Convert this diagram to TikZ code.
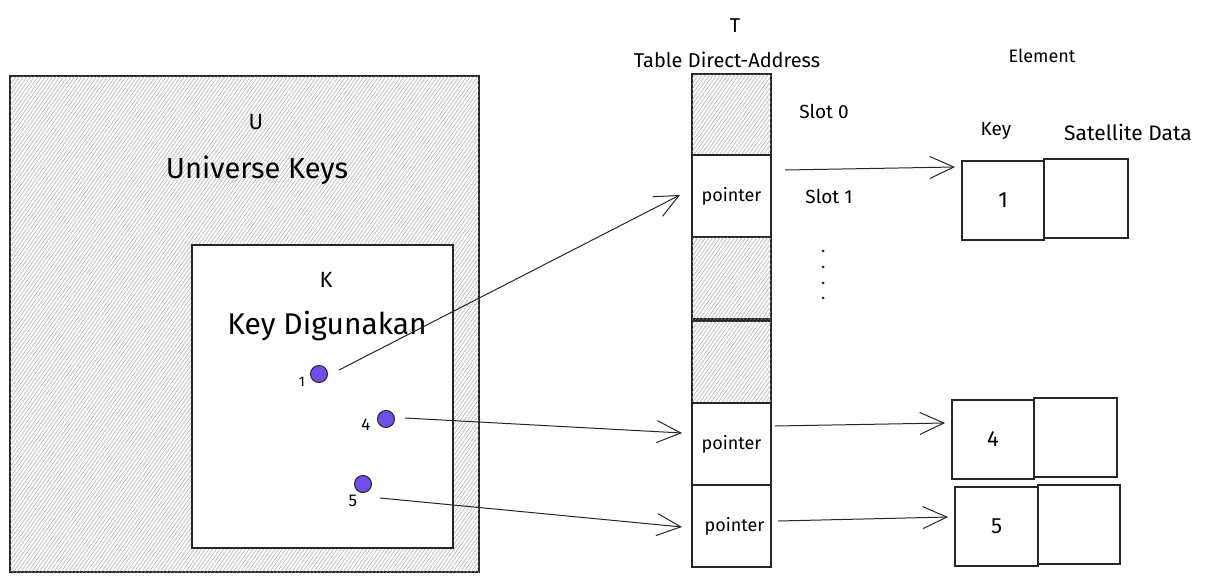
\documentclass[tikz,border=0pt]{standalone}
\usepackage{fontspec}
\setmainfont{Fira Sans}
\usetikzlibrary{arrows.meta,patterns.meta,calc}
\definecolor{dotpurple}{RGB}{112,78,232}
\definecolor{hatchgray}{RGB}{160,160,160}
\tikzset{
  box/.style={draw=black!85, line width=1.1pt, rectangle, inner sep=0pt, outer sep=0pt, anchor=north west},
  hatched/.style={box, fill=gray!5, postaction={pattern={Lines[angle=55,distance=3pt,line width=0.35pt]}, pattern color=hatchgray}},
  plain/.style={box, fill=white},
  slot/.style={minimum width=79pt, minimum height=82pt},
  cell/.style={plain, minimum width=82pt, minimum height=79pt},
  lbl/.style={inner sep=0pt, outer sep=0pt},
  dot/.style={circle, draw=black!85, line width=1pt, fill=dotpurple, minimum size=17pt, inner sep=0pt},
  link/.style={draw=black!85, line width=1pt, -{Straight Barb[length=24pt,width=22pt,line width=1pt]}},
}
\begin{document}
\begin{tikzpicture}[x=1pt,y=-1pt]
\useasboundingbox (0,0) rectangle (1214,586);
% Universe
\node[hatched, minimum width=469pt, minimum height=496pt] (U) at (10,76) {};
\node[plain, minimum width=261pt, minimum height=303pt] (K) at (192,245) {};
\node[lbl, font=\fontsize{22}{26}\selectfont] (Ulbl) at (256,122) {U};
\node[lbl, font=\fontsize{29}{33}\selectfont] (Utxt) at (257,170) {Universe Keys};
\node[lbl, font=\fontsize{22}{26}\selectfont] (Klbl) at (326,280) {K};
\node[lbl, font=\fontsize{30}{34}\selectfont] (Ktxt) at (327,326) {Key Digunakan};
% keys
\node[dot] (d1) at (319,374) {};
\node[dot] (d4) at (386,419) {};
\node[dot] (d5) at (363,484) {};
\node[lbl, font=\fontsize{14}{16}\selectfont] (n1) at (302,382) {1};
\node[lbl, font=\fontsize{17}{19}\selectfont] (n4) at (366,425) {4};
\node[lbl, font=\fontsize{17}{19}\selectfont] (n5) at (353,501) {5};
% table
\node[lbl, font=\fontsize{20}{24}\selectfont] (Tlbl) at (735,26) {T};
\node[lbl, font=\fontsize{20}{24}\selectfont] (Ttxt) at (727,60) {Table Direct-Address};
\node[hatched, slot] (s0) at (692,74) {};
\node[plain, slot] (s1) at (692,155) {};
\node[hatched, slot] (s2) at (692,237) {};
\node[hatched, slot] (s3) at (692,321) {};
\node[plain, slot] (s4) at (692,403) {};
\node[plain, slot] (s5) at (692,485) {};
\node[lbl, font=\fontsize{18}{21}\selectfont] at (s1.center) {pointer};
\node[lbl, font=\fontsize{18}{21}\selectfont] at (s4.center) {pointer};
\node[lbl, font=\fontsize{18}{21}\selectfont] at ($(s5.center)+(3,0)$) {pointer};
\node[lbl, font=\fontsize{19}{22}\selectfont] (sl0) at (824,111) {Slot 0};
\node[lbl, font=\fontsize{19}{22}\selectfont] (sl1) at (829,196) {Slot 1};
\foreach \yy in {251,267,283,298} \fill[black!85] (823,\yy) circle (1.5pt);
% elements
\node[lbl, font=\fontsize{18}{21}\selectfont] (Etxt) at (1042,56) {Element};
\node[lbl, font=\fontsize{19}{22}\selectfont] (Keytxt) at (996,131) {Key};
\node[lbl, font=\fontsize{21}{24}\selectfont] (Sattxt) at (1128,132) {Satellite Data};
\node[cell] (e1k) at (962,161) {};
\node[cell, minimum width=84pt] (e1s) at (1044,159) {};
\node[cell] (e4k) at (952,400) {};
\node[cell, minimum width=83pt] (e4s) at (1034,398) {};
\node[cell, minimum width=83pt] (e5k) at (955,487) {};
\node[cell, minimum width=82pt] (e5s) at (1038,485) {};
\node[lbl, font=\fontsize{22}{26}\selectfont] at (e1k.center) {1};
\node[lbl, font=\fontsize{22}{26}\selectfont] at (e4k.center) {4};
\node[lbl, font=\fontsize{22}{26}\selectfont] at (e5k.center) {5};
% connectors
\draw[link] ($(d1.center)+(20,-4)$) -- ($(s1.west)+(-12,-1)$);
\draw[link] ($(d4.center)+(19,-1)$) -- ($(s4.west)+(-10,-11)$);
\draw[link] ($(d5.center)+(17,14)$) -- ($(s5.west)+(-10,1)$);
\draw[link] ($(s1.north east)+(14,15)$) -- ($(e1k.north west)+(-7,6)$);
\draw[link] ($(s4.north east)+(4,23)$) -- ($(e4k.north west)+(-7,23)$);
\draw[link] ($(s5.north east)+(7,36)$) -- ($(e5k.north west)+(-7,30)$);
\end{tikzpicture}
\end{document}
